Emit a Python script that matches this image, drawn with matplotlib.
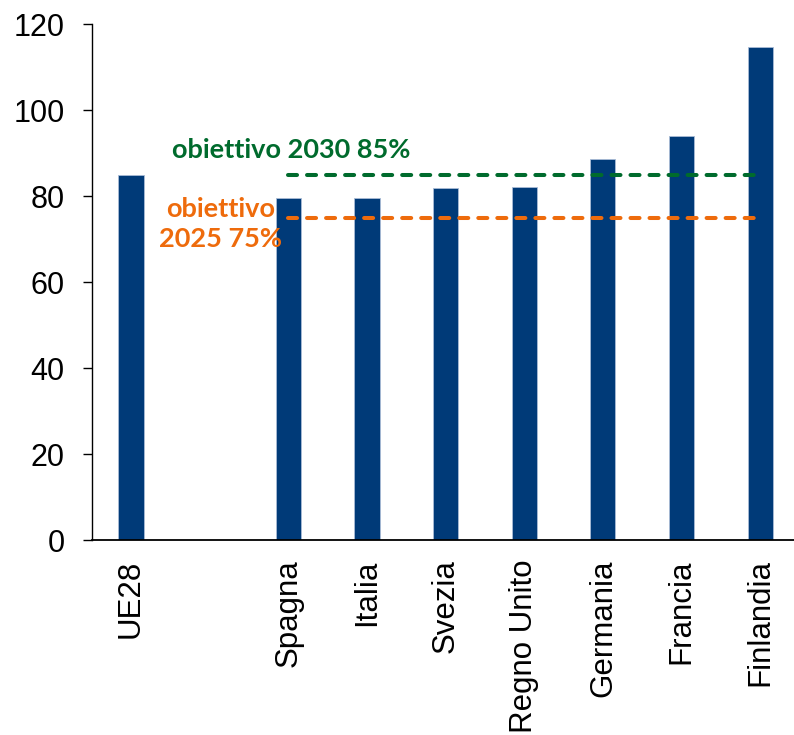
import matplotlib
matplotlib.use("Agg")
import matplotlib.pyplot as plt

categories = ["UE28", "", "Spagna", "Italia", "Svezia", "Regno Unito", "Germania", "Francia", "Finlandia"]
values = [85.0, None, 79.6, 79.6, 81.8, 82.0, 88.7, 94.0, 114.6]
target_2030 = 85
target_2025 = 75
target_label_2030 = "obiettivo 2030 85%"
target_label_2025 = "obiettivo\n2025 75%"

plt.rcParams['lines.scale_dashes'] = False
fig = plt.figure(figsize=(7.94, 7.35), dpi=100)
ax = fig.add_axes([91.7/794, 1-540/735, 1-91.7/794, (540-24)/735])

xs = [i for i, v in enumerate(values) if v is not None]
vs = [v for v in values if v is not None]
ax.bar(xs, vs, width=0.32, color="#003A78", edgecolor="#A9BCD6", linewidth=0.6, zorder=2)

first = categories.index("Spagna")
last = len(categories) - 1
ax.plot([first, last], [target_2030, target_2030], color="#006B2D", lw=2.9,
        dashes=(6.5, 7.2), dash_capstyle="round", zorder=3)
ax.plot([first, last], [target_2025, target_2025], color="#EE6B0C", lw=2.9,
        dashes=(6.5, 7.2), dash_capstyle="round", zorder=3)

ax.text(2.04, 90.8, target_label_2030, color="#006B2D", fontsize=19.5, fontweight="bold",
        family="Lato", ha="center", va="center")
ax.text(1.14, 73.4, target_label_2025, color="#EE6B0C", fontsize=19.5, fontweight="bold",
        family="Lato", ha="center", va="center", linespacing=1.3)

ax.set_xlim(-0.5, 8.43)
ax.set_ylim(0, 120)
ax.set_yticks([0, 20, 40, 60, 80, 100, 120])
ax.set_xticks(range(len(categories)))
ax.set_xticklabels(categories, rotation=90, fontsize=22.5, family="Liberation Sans")
for lab in ax.get_yticklabels():
    lab.set_fontsize(22)
    lab.set_family("Liberation Sans")
ax.tick_params(axis="x", length=0, pad=14)
ax.tick_params(axis="y", length=6.5, width=1, pad=13, direction="out")
for s in ["top", "right"]:
    ax.spines[s].set_visible(False)
ax.spines["left"].set_linewidth(1)
ax.spines["bottom"].set_linewidth(1.3)

fig.savefig("out.png", dpi=100)
